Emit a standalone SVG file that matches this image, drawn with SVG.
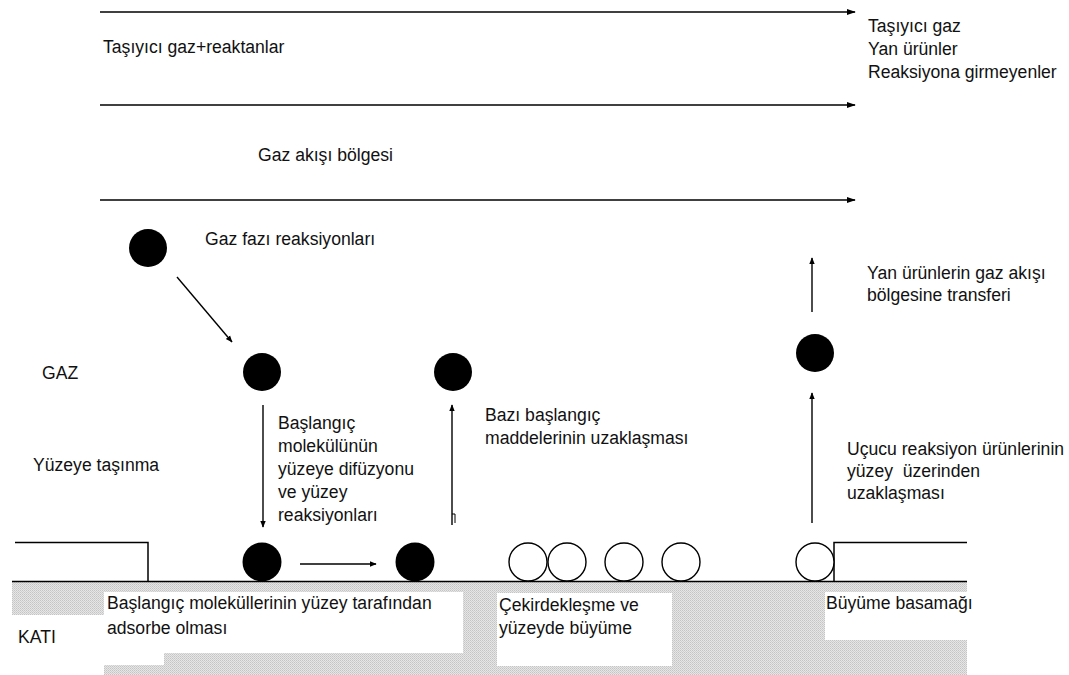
<svg xmlns="http://www.w3.org/2000/svg" width="1069" height="675" viewBox="0 0 1069 675">
<style>
text{font-family:"Liberation Sans",Arial,sans-serif;font-size:17.6px;fill:#111}
.ln{stroke:#000;stroke-width:1.5;fill:none}
.conn{stroke:#000;stroke-width:1.4;fill:none}
.mol{fill:#000}
.open{fill:#fff;stroke:#000;stroke-width:1.4}
.box{fill:#fff}
</style>
<defs>
<pattern id="hatch" width="2" height="2" patternUnits="userSpaceOnUse">
<rect width="2" height="2" fill="#e6e6e6"/>
<rect width="1" height="1" fill="#c4c4c4"/>
<rect x="1" y="1" width="1" height="1" fill="#cfcfcf"/>
</pattern>
<marker id="ah" viewBox="0 0 10 10" refX="9" refY="5" markerWidth="7" markerHeight="7" markerUnits="userSpaceOnUse" orient="auto">
<path d="M0,1 L10,5 L0,9 Z" fill="#000"/>
</marker>
<marker id="ah2" viewBox="0 0 10 10" refX="9" refY="5" markerWidth="9" markerHeight="9" markerUnits="userSpaceOnUse" orient="auto">
<path d="M0,1.5 L10,5 L0,8.5 Z" fill="#000"/>
</marker>
</defs>
<rect width="1069" height="675" fill="#fff"/>

<g id="solid">
<rect x="12" y="582" width="955" height="93" fill="url(#hatch)"/>
<rect class="box" x="12" y="615" width="92" height="60"/>
<rect class="box" x="104" y="592" width="359" height="61"/>
<rect class="box" x="12" y="653" width="152" height="12"/>
<rect class="box" x="497" y="593" width="175" height="73"/>
<rect class="box" x="825" y="592" width="142" height="48"/>
<path class="ln" d="M12,581.5 H967"/>
<path class="ln" d="M15,542.5 H148 V581.5"/>
<path class="ln" d="M834,581.5 V542.5 H967"/>
<text x="18" y="643">KATI</text>
</g>

<g id="flow">
<text x="103" y="53">Taşıyıcı gaz+reaktanlar</text>
<text x="258" y="161">Gaz akışı bölgesi</text>
<text x="868" y="32">Taşıyıcı gaz</text>
<text x="868" y="55">Yan ürünler</text>
<text x="868" y="78">Reaksiyona girmeyenler</text>
</g>

<g id="labels">
<text x="42" y="379">GAZ</text>
<text x="33" y="471">Yüzeye taşınma</text>
</g>

<g id="gas-phase">
<circle class="mol" cx="148" cy="248" r="19"/>
<text x="205" y="245">Gaz fazı reaksiyonları</text>
</g>

<g id="diffusing">
<circle class="mol" cx="262" cy="372" r="19"/>
<text x="278" y="429">Başlangıç</text>
<text x="278" y="452">molekülünün</text>
<text x="278" y="475">yüzeye difüzyonu</text>
<text x="278" y="498">ve yüzey</text>
<text x="278" y="521">reaksiyonları</text>
</g>

<g id="desorbed">
<circle class="mol" cx="453" cy="372" r="19"/>
<text x="485" y="421">Bazı başlangıç</text>
<text x="485" y="444">maddelerinin uzaklaşması</text>
</g>

<g id="adsorbed">
<circle class="mol" cx="262" cy="562" r="19.5"/>
<circle class="mol" cx="415" cy="562" r="19.5"/>
<text x="107" y="609">Başlangıç moleküllerinin yüzey tarafından</text>
<text x="107" y="634">adsorbe olması</text>
</g>

<g id="nucleation">
<circle class="open" cx="528" cy="562" r="19"/>
<circle class="open" cx="567" cy="562" r="19"/>
<circle class="open" cx="624" cy="562" r="19"/>
<circle class="open" cx="681" cy="562" r="19"/>
<text x="499" y="611">Çekirdekleşme ve</text>
<text x="499" y="634">yüzeyde büyüme</text>
</g>

<g id="growth-step">
<circle class="open" cx="815" cy="562" r="19"/>
<text x="826" y="609">Büyüme basamağı</text>
</g>

<g id="product">
<circle class="mol" cx="815" cy="353" r="19"/>
<text x="847" y="455">Uçucu reaksiyon ürünlerinin</text>
<text x="847" y="477" xml:space="preserve">yüzey  üzerinden</text>
<text x="847" y="499">uzaklaşması</text>
<text x="867" y="279">Yan ürünlerin gaz akışı</text>
<text x="867" y="301">bölgesine transferi</text>
</g>

<g id="connectors">
<path class="conn" d="M100,12 H855" marker-end="url(#ah2)"/>
<path class="conn" d="M100,105 H855" marker-end="url(#ah2)"/>
<path class="conn" d="M100,200 H855" marker-end="url(#ah2)"/>
<path class="conn" d="M177,277 L232,342" marker-end="url(#ah)"/>
<path class="conn" d="M263,405 V527" marker-end="url(#ah)"/>
<path class="conn" d="M452,525 V405" marker-end="url(#ah)"/>
<path class="conn" d="M452,514 h3 v9" style="stroke-width:1"/>
<path class="conn" d="M300,564 H376" marker-end="url(#ah)"/>
<path class="conn" d="M812,523 V393" marker-end="url(#ah)"/>
<path class="conn" d="M812,312 V258" marker-end="url(#ah)"/>
</g>
</svg>
